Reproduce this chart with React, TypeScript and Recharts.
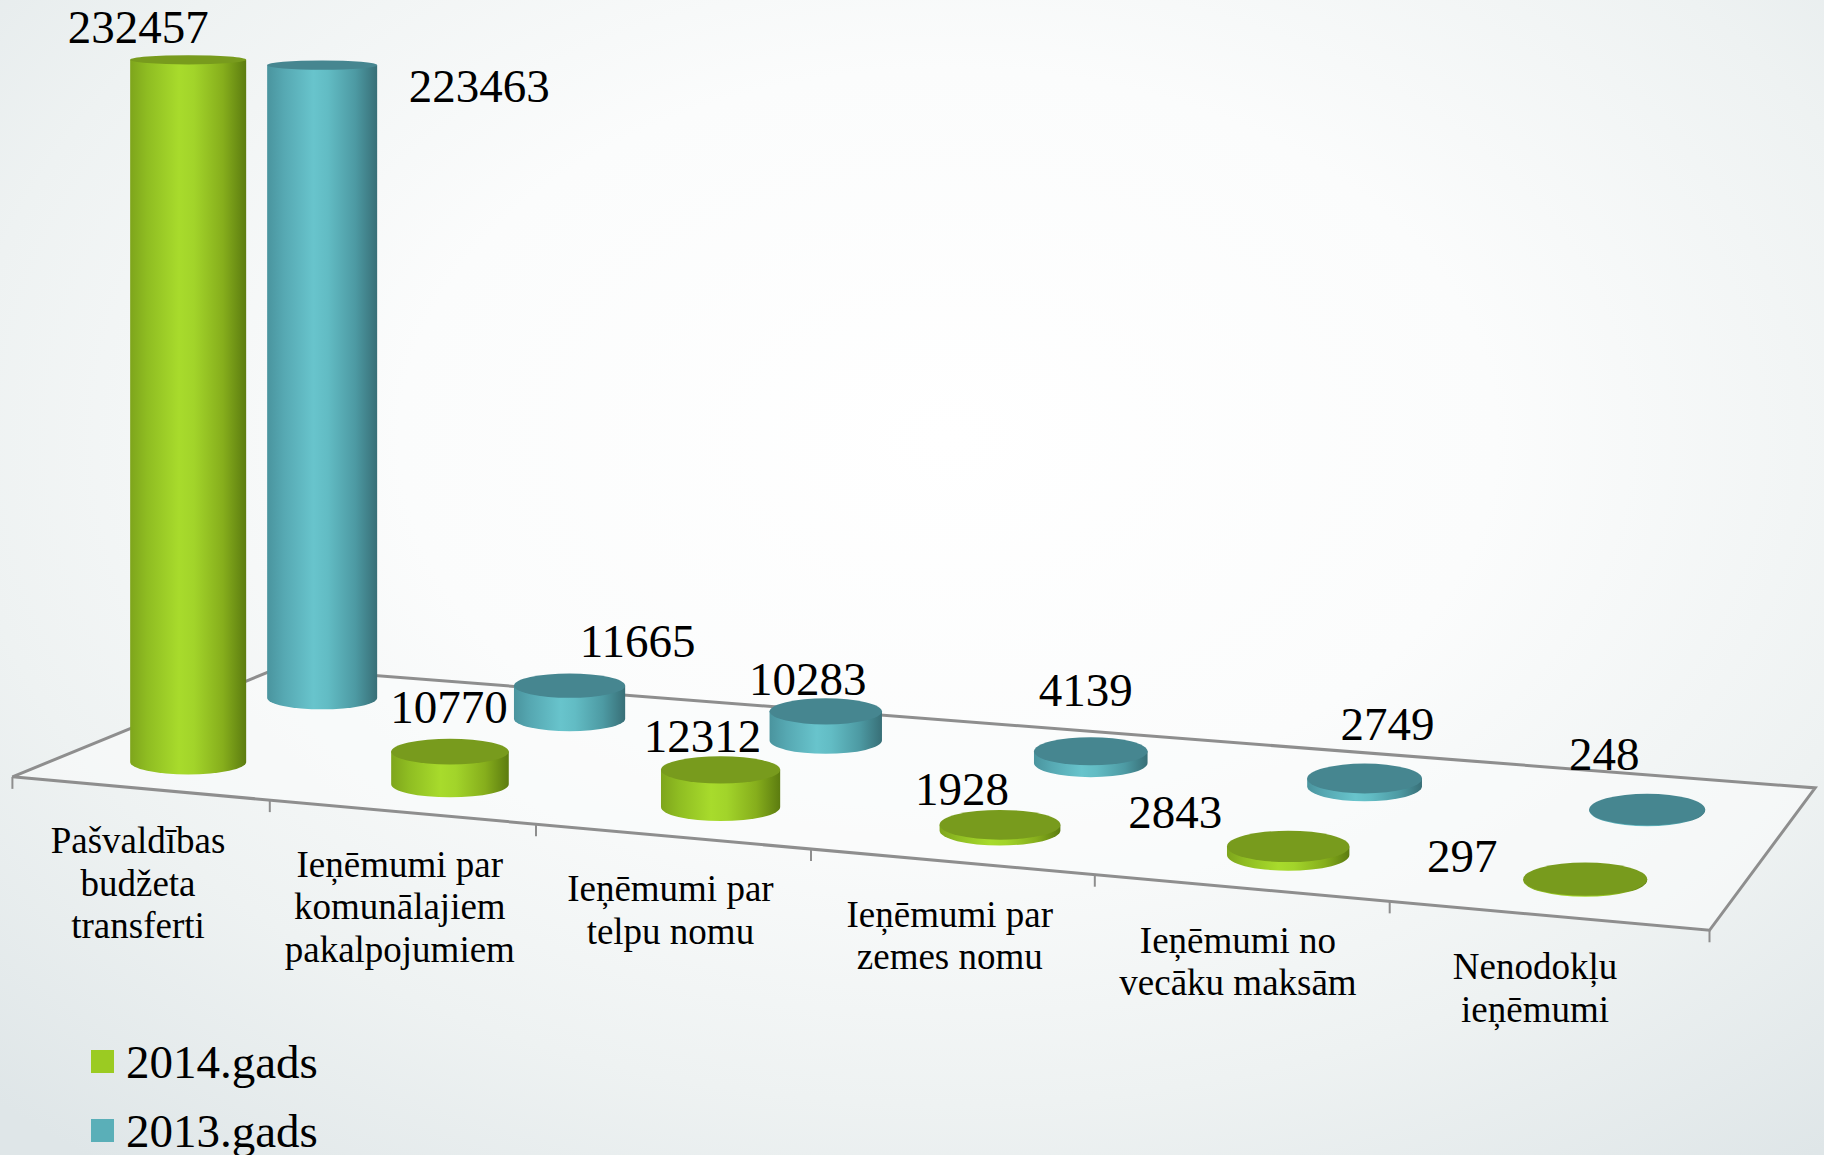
import React from "react";
import { BarChart, Bar, XAxis, YAxis, LabelList } from "recharts";

const categories = [
  "Pašvaldības\nbudžeta\ntransferti",
  "Ieņēmumi par\nkomunālajiem\npakalpojumiem",
  "Ieņēmumi par\ntelpu nomu",
  "Ieņēmumi par\nzemes nomu",
  "Ieņēmumi no\nvecāku maksām",
  "Nenodokļu\nieņēmumi",
];
const values2014 = [232457, 10770, 12312, 1928, 2843, 297];
const values2013 = [223463, 11665, 10283, 4139, 2749, 248];
const seriesNames = ["2014.gads", "2013.gads"];

const data = categories.map((name, i) => ({ name, y2014: values2014[i], y2013: values2013[i] }));

// hand placed value labels: [dx from cylinder axis, dy from top face]
const nudgeFront = [[-50, -17], [-1, -29], [-18, -18], [-38, -20], [-113, -18], [-123, -7]];
const nudgeBack = [[157, 37], [68, -29], [-18, -16], [-5, -45], [23, -38], [-43, -40]];

const W = 1824;
const H = 1155;
const PLOT_LEFT = 48.3;
const BAND = 279.4;
const PLOT_TOP = 20;
const PLOT_H = 725;
const Y_MAX = 240000;
const FIRST_C = PLOT_LEFT + BAND / 2;
const SPAN = BAND * 5;

const FONT = "'Times New Roman', 'Liberation Serif', serif";
const GREEN = "#9bcb22";
const TEAL = "#5aafb8";

// fake 3D projection of the floor plane
const tOf = (x: number) => (x - FIRST_C) / SPAN;
const warp = (x: number) => {
  const t = tOf(x);
  return x - 110 * t * (1 - t);
};
// row 0 = front edge, 1 = 2014 row, 2 = 2013 row, 3 = back edge
function project(x: number, row: number) {
  const t = tOf(x);
  const wx = warp(x);
  if (row === 0) {
    const k = Math.max(0, t - 0.8);
    const X = wx - 48 + 230 * k * k;
    return { X, Y: 777 + 0.0904 * (X - 14), t };
  }
  if (row === 1) return { X: wx, Y: 762 + 0.0845 * (wx - 188), t };
  if (row === 2) {
    const X = wx + 134 - 72 * t;
    return { X, Y: 698 + 0.085 * (X - 326), t };
  }
  const X = wx + 206 - 116 * t;
  return { X, Y: 668 + 0.078 * (X - 278), t };
}
const ryAt = (y: number, t: number) => 4 + 0.011 * y + 3 * t;

function cylGeom(bandX: number, bandW: number, h: number, row: number) {
  const c = bandX + bandW / 2;
  const p = project(c, row);
  const depth = row === 1 ? 1 : 0.937;
  const w = row === 1 ? 116 + 8 * p.t : 110 + 6 * p.t;
  const hh = Math.max(0, h) * depth;
  return { cx: p.X, base: p.Y, top: p.Y - hh, w, t: p.t };
}

const gradients = {
  1: { id: "side2014", top: "#789b1d", stops: ["#7ea51c", "#8fbd22", "#a8db2c", "#a2d42a", "#86ae1c", "#5c7c10"] },
  2: { id: "side2013", top: "#468690", stops: ["#4a949e", "#56a8b2", "#68c4cc", "#62bcc4", "#4d9aa3", "#386f77"] },
};
const stopAt = [0, 0.15, 0.42, 0.55, 0.8, 1];

function Cylinder(props: any, row: 1 | 2) {
  const { x, width, height } = props;
  const g = cylGeom(x, width, height, row);
  const rx = g.w / 2;
  const ryB = ryAt(g.base, g.t);
  const ryT = ryAt(g.top, g.t);
  const gr = gradients[row];
  const body = `M ${g.cx - rx} ${g.top} L ${g.cx - rx} ${g.base} A ${rx} ${ryB} 0 0 0 ${g.cx + rx} ${g.base} L ${g.cx + rx} ${g.top} Z`;
  return (
    <g>
      <defs>
        <linearGradient id={gr.id} x1="0" y1="0" x2="1" y2="0">
          {gr.stops.map((s, i) => (
            <stop key={i} offset={stopAt[i]} stopColor={s} />
          ))}
        </linearGradient>
      </defs>
      <path d={body} fill={`url(#${gr.id})`} />
      <ellipse cx={g.cx} cy={g.top} rx={rx} ry={ryT} fill={gr.top} />
    </g>
  );
}

function valueLabel(props: any, row: 1 | 2) {
  const vb = props.viewBox && props.viewBox.width !== undefined ? props.viewBox : props;
  const g = cylGeom(vb.x, vb.width, vb.height, row);
  const n = (row === 1 ? nudgeFront : nudgeBack)[props.index] || [0, -20];
  return (
    <text x={g.cx + n[0]} y={g.top + n[1]} textAnchor="middle" fontFamily={FONT} fontSize={47} fill="#000">
      {props.value}
    </text>
  );
}

function CategoryTick(props: any) {
  const { x, payload } = props;
  const p = project(x, 1);
  const lx = p.X - 50;
  const edgeY = 777 + 0.0904 * (lx - 14);
  const lines = String(payload.value).split("\n");
  return (
    <text x={lx} y={edgeY + 65} textAnchor="middle" fontFamily={FONT} fontSize={37} fill="#000">
      {lines.map((l, i) => (
        <tspan key={i} x={lx} dy={i === 0 ? 0 : 42.5}>
          {l}
        </tspan>
      ))}
    </text>
  );
}

function Floor() {
  const b0 = PLOT_LEFT;
  const b6 = PLOT_LEFT + 6 * BAND;
  const fl = project(b0, 0);
  const fr = project(b6, 0);
  const br = project(b6, 3);
  const bl = project(b0, 3);
  const ticks = categories.map((_, i) => project(PLOT_LEFT + i * BAND, 0)).concat([fr]);
  return (
    <svg width={W} height={H} style={{ position: "absolute", left: 0, top: 0 }}>
      <polygon
        points={`${fl.X},${fl.Y} ${fr.X},${fr.Y} ${br.X},${br.Y} ${bl.X},${bl.Y}`}
        fill="#fafbfb"
        fillOpacity={0.6}
        stroke="#8e8e8e"
        strokeWidth={3}
      />
      {ticks.map((p, i) => (
        <line key={i} x1={p.X} y1={p.Y} x2={p.X} y2={p.Y + 12} stroke="#8e8e8e" strokeWidth={2} />
      ))}
    </svg>
  );
}

export default function App() {
  const colors = [GREEN, TEAL];
  return (
    <div
      style={{
        position: "absolute",
        left: 0,
        top: 0,
        width: W,
        height: H,
        overflow: "hidden",
        background: "radial-gradient(ellipse 75% 80% at 52% 38%, #ffffff 0%, #fbfcfc 40%, #eef2f2 72%, #dfe6e8 100%)",
      }}
    >
      <Floor />
      <div style={{ position: "absolute", left: 0, top: 0 }}>
        <BarChart
          width={W}
          height={H}
          data={data}
          margin={{ top: PLOT_TOP, right: W - PLOT_LEFT - 6 * BAND, bottom: 0, left: PLOT_LEFT }}
          barCategoryGap="20%"
        >
          <XAxis
            xAxisId="front"
            dataKey="name"
            height={H - PLOT_TOP - PLOT_H}
            axisLine={false}
            tickLine={false}
            interval={0}
            tick={(p: any) => <CategoryTick {...p} />}
          />
          <XAxis xAxisId="back" dataKey="name" hide />
          <YAxis domain={[0, Y_MAX]} hide />
          <Bar
            xAxisId="back"
            dataKey="y2013"
            name={seriesNames[1]}
            fill={TEAL}
            isAnimationActive={false}
            shape={(p: any) => Cylinder(p, 2)}
          >
            <LabelList dataKey="y2013" content={(p: any) => valueLabel(p, 2)} />
          </Bar>
          <Bar
            xAxisId="front"
            dataKey="y2014"
            name={seriesNames[0]}
            fill={GREEN}
            isAnimationActive={false}
            shape={(p: any) => Cylinder(p, 1)}
          >
            <LabelList dataKey="y2014" content={(p: any) => valueLabel(p, 1)} />
          </Bar>
        </BarChart>
      </div>
      <div style={{ position: "absolute", left: 91, top: 1027, fontFamily: FONT, fontSize: 47, color: "#000" }}>
        {seriesNames.map((n, i) => (
          <div key={n} style={{ display: "flex", alignItems: "center", height: 69 }}>
            <span style={{ display: "inline-block", width: 23, height: 23, background: colors[i], marginRight: 12 }} />
            <span>{n}</span>
          </div>
        ))}
      </div>
    </div>
  );
}
